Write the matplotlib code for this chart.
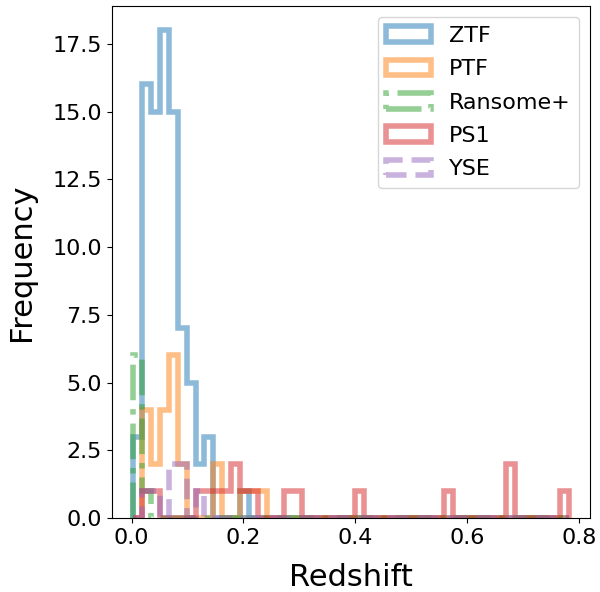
import numpy as np
import matplotlib
matplotlib.use("Agg")
import matplotlib.pyplot as plt

# Shared redshift bin edges (49 bins)
z_min, z_max, n_bins = 0.003, 0.782, 49

# Counts per bin for each survey
ztf = [3, 16, 15, 18, 15, 7, 5, 2, 3, 0, 0, 0, 1] + [0] * 36
ptf = [0, 4, 2, 4, 6, 2, 0, 0, 0, 2, 0, 0, 1, 1, 1] + [0] * 34
ransome = [6, 1] + [0] * 47
ps1 = ([0, 1, 1, 0, 0, 0, 0, 1, 1, 1, 1, 2, 1, 1, 0, 0, 0, 1, 1] + [0] * 6
       + [1] + [0] * 9 + [1] + [0] * 6 + [2] + [0] * 5 + [1])
yse = [0, 1, 1, 0, 2, 2, 0, 1] + [0] * 41

labels = ["ZTF", "PTF", "Ransome+", "PS1", "YSE"]
series = [ztf, ptf, ransome, ps1, yse]
styles = ["-", "-", "-.", "-", "--"]

edges = np.linspace(z_min, z_max, n_bins + 1)
centers = 0.5 * (edges[:-1] + edges[1:])

fig, ax = plt.subplots(figsize=(6, 5.92), dpi=100)

for counts, label, ls in zip(series, labels, styles):
    ax.hist(centers, bins=edges, weights=counts, histtype="step",
            lw=4, alpha=0.5, ls=ls, label=label)

ax.set_xticks([0.0, 0.2, 0.4, 0.6, 0.8])
ax.set_xlabel("Redshift", fontsize=22, labelpad=11)
ax.set_ylabel("Frequency", fontsize=22, labelpad=12)
ax.tick_params(labelsize=16)
ax.legend(loc="upper right", fontsize=16, labelspacing=0.6)

plt.subplots_adjust(left=0.186, right=0.984, bottom=0.125, top=0.990)
plt.savefig("out.png")
